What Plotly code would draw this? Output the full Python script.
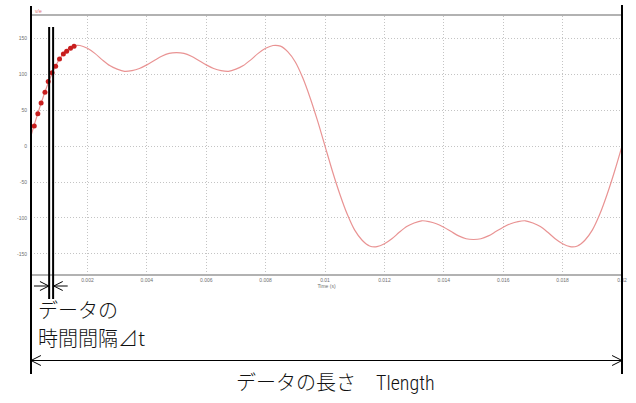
import plotly.graph_objects as go

# ---------------- data ----------------
curve_step_s = 0.00025
curve_values = [
    0, 35, 67, 95, 117, 131, 139, 140, 136, 129, 120, 112, 107, 104, 105, 108,
    113, 119, 125, 129, 130, 129, 125, 119, 113, 108, 105, 104, 107, 112, 120,
    129, 136, 140, 139, 131, 117, 95, 67, 35, 0,
    -35, -67, -95, -117, -131, -139, -140, -136, -129, -120, -112, -107, -104,
    -105, -108, -113, -119, -125, -129, -130, -129, -125, -119, -113, -108,
    -105, -104, -107, -112, -120, -129, -136, -140, -139, -131, -117, -95,
    -67, -35, 0,
]
curve_times = [i * curve_step_s for i in range(len(curve_values))]

sample_times = [0.00021, 0.00033, 0.00044, 0.00057, 0.00068, 0.00081,
                0.00093, 0.00106, 0.00119, 0.00130, 0.00143, 0.00155]
sample_values = [28, 45, 60, 75, 90, 102, 111, 121, 128, 132, 136, 139]

x_tick_values = [0.002, 0.004, 0.006, 0.008, 0.01, 0.012, 0.014, 0.016, 0.018, 0.02]
x_tick_labels = ["0.002", "0.004", "0.006", "0.008", "0.01", "0.012", "0.014",
                 "0.016", "0.018", "0.02"]
y_tick_values = [-150, -100, -50, 0, 50, 100, 150]
y_tick_labels = ["-150", "-100", "-50", "0", "50", "100", "150"]

x_range = [0.0001, 0.02]
y_range = [-178, 181]

# ---------------- layout geometry ----------------
W, H = 636, 403
L, R, T, B = 31, 627, 16, 274


def px(x):
    return (x - L) / (R - L)


def py(y):
    return (B - y) / (B - T)


fig = go.Figure()
fig.add_trace(go.Scatter(
    x=curve_times, y=curve_values, mode="lines",
    line=dict(color="#e99393", width=1.2, shape="spline", smoothing=0.8),
    hoverinfo="skip", showlegend=False,
))
fig.add_trace(go.Scatter(
    x=sample_times, y=sample_values, mode="markers",
    marker=dict(color="#c81e1e", size=5),
    hoverinfo="skip", showlegend=False,
))

shapes = []


def seg(x0, y0, x1, y1, w=1.0):
    shapes.append(dict(type="line", xref="paper", yref="paper",
                       x0=px(x0), y0=py(y0), x1=px(x1), y1=py(y1),
                       line=dict(color="black", width=w), layer="above"))


# long verticals (data length)
seg(31, 6, 31, 374, 2)
seg(627, 5, 627, 374, 2)
# delta t lines
seg(49.3, 27, 49.3, 299, 2)
seg(53.3, 27, 53.3, 299, 2)
# small arrows pointing at the delta t lines
seg(34, 286, 49, 286)
seg(40, 281.5, 49, 286)
seg(40, 290.5, 49, 286)
seg(54, 286, 68, 286)
seg(63, 281.5, 54, 286)
seg(63, 290.5, 54, 286)
# double arrow (Tlength)
seg(31, 360.5, 627, 360.5)
seg(31, 360.5, 41, 355.5)
seg(31, 360.5, 41, 365.5)
seg(627, 360.5, 617, 355.5)
seg(627, 360.5, 617, 365.5)

jp = "Noto Sans CJK JP"
annotations = [
    dict(text="データの", x=px(36), y=py(309), xanchor="left", yanchor="middle"),
    dict(text="時間間隔⊿t", x=px(36), y=py(337), xanchor="left", yanchor="middle"),
    dict(text="データの長さ　<span style=\"font-family:'Liberation Sans Narrow','Roboto Condensed',Roboto\">Tlength</span>",
         x=px(236), y=py(381), xanchor="left", yanchor="middle"),
]
for a in annotations:
    a.update(xref="paper", yref="paper", showarrow=False,
             font=dict(family=jp, size=20, color="#111111", weight=300))
annotations.append(dict(text="v/e", x=px(33), y=py(11), xref="paper", yref="paper",
                        xanchor="left", yanchor="middle", showarrow=False,
                        font=dict(family="Arial, Liberation Sans", size=5, color="#e06a6a")))

fig.update_layout(
    width=W, height=H,
    margin=dict(l=L, r=W - R, t=T, b=H - B, pad=0),
    paper_bgcolor="white", plot_bgcolor="white",
    shapes=shapes, annotations=annotations,
    font=dict(family="Arial, Liberation Sans", size=5, color="#707070"),
    xaxis=dict(
        range=x_range, tickmode="array", tickvals=x_tick_values, ticktext=x_tick_labels,
        showgrid=True, gridcolor="#c4c4c4", griddash="1px,2px", gridwidth=1,
        zeroline=False, showline=True, linecolor="#b2b2b2", linewidth=2, mirror=True,
        ticks="", tickfont=dict(size=5, color="#707070"),
        title=dict(text="Time (s)", font=dict(size=5, color="#707070"), standoff=1),
    ),
    yaxis=dict(
        range=y_range, tickmode="array", tickvals=y_tick_values, ticktext=y_tick_labels,
        showgrid=True, gridcolor="#c4c4c4", griddash="1px,2px", gridwidth=1,
        zeroline=False, showline=False, ticks="", ticklabelstandoff=3,
        tickfont=dict(size=5, color="#707070"),
    ),
)

fig.write_html(
    "out.html",
    config={"displayModeBar": False},
    post_script="document.body.style.margin='0';document.body.style.overflow='hidden';",
)
